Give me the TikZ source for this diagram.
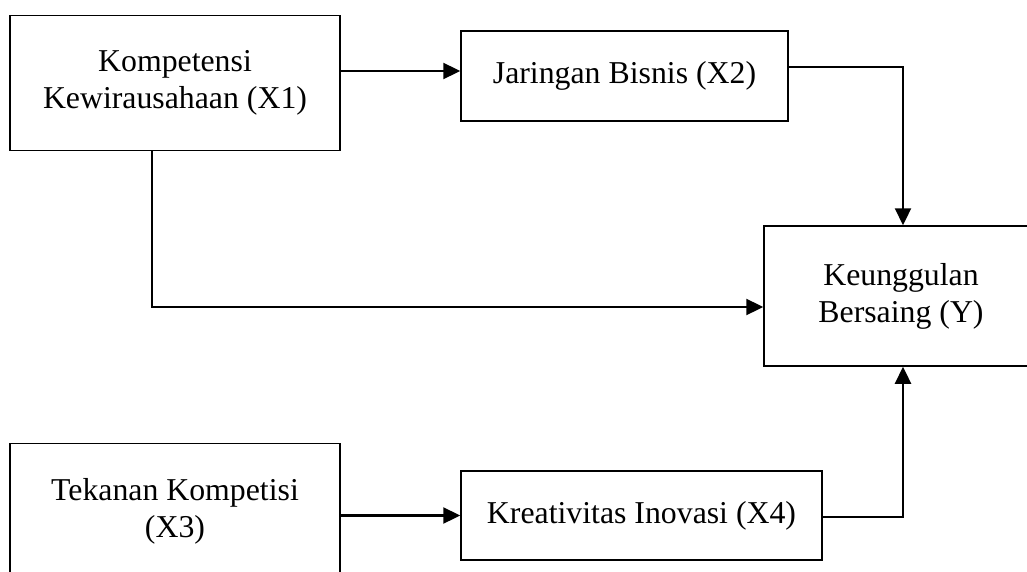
\documentclass[tikz,border=0pt]{standalone}
\usepackage{fontspec}
\setmainfont{Liberation Serif}
\usetikzlibrary{arrows.meta,calc}
\begin{document}
\begin{tikzpicture}[x=1pt,y=-1pt,
  box/.style={draw=black,line width=1.5pt,fill=white,rectangle,inner sep=0pt,
    align=center,font=\fontsize{31.8}{37}\selectfont},
  link/.style={line width=2.3pt,-{Triangle[length=17pt,width=16pt]}}]
\clip (0,0) rectangle (1027,572);
\fill[white] (0,0) rectangle (1027,572);

% variables
\node[box,minimum width=330pt,minimum height=135pt] (X1) at (175,83)
  {Kompetensi\\Kewirausahaan (X1)};
\node[box,minimum width=327pt,minimum height=90pt] (X2) at (624.5,76)
  {Jaringan Bisnis (X2)};
\node[box,minimum width=274pt,minimum height=140pt] (Y) at (901,296)
  {Keunggulan\\Bersaing (Y)};
\node[box,minimum width=330pt,minimum height=135pt] (X3) at (175,511)
  {Tekanan Kompetisi\\(X3)};
\node[box,minimum width=361pt,minimum height=89pt] (X4) at (641.5,515.5)
  {Kreativitas Inovasi (X4)};

% paths
\draw[link] ([yshift=5pt]X1.east |- X2.west) -- ([yshift=5pt]X2.west);
\draw[link] ([yshift=9pt]X2.east) -| ([xshift=2pt]Y.north);
\draw[link] ([xshift=-23pt]X1.south) |- ([yshift=-11pt]Y.west);
\draw[link] (X3.east |- X4.west) -- (X4.west);
\draw[link] ([yshift=-1.5pt]X4.east) -| ([xshift=2pt]Y.south);
\end{tikzpicture}
\end{document}
